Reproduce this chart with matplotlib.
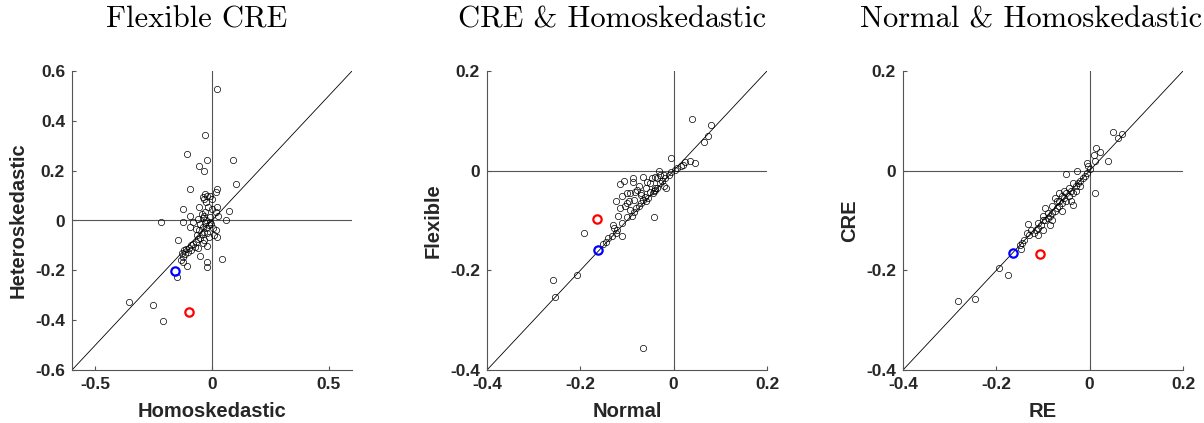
import numpy as np
import matplotlib.pyplot as plt

# ---- data (x, y) ----
# panel 1: Flexible CRE, homoskedastic vs heteroskedastic
p1_x = [0.021, -0.031, -0.107, -0.021, 0.091, -0.056, -0.036, 0.104, -0.094, 0.02, 0.017,
        -0.219, -0.123, -0.124, 0.071, 0.06, -0.147, 0.041, -0.021, -0.107, -0.02, -0.124,
        -0.151, -0.356, -0.252, -0.208,
        -0.03, -0.04, -0.02, -0.01, 0.0, -0.035, -0.025, -0.054, -0.016, 0.021, 0.0, 0.015,
        -0.03, -0.045, -0.093, -0.035, 0.025, -0.01, -0.04, -0.06, -0.025, -0.08, -0.01,
        -0.03, -0.05, -0.015, -0.094, -0.04, -0.025, 0.005, -0.07, -0.055, 0.015, -0.035,
        -0.02, -0.045, 0.01, -0.015, 0.02, -0.05, -0.06, -0.035, -0.07, -0.04, -0.08,
        -0.021, -0.09, -0.075, -0.1, -0.11, -0.12, -0.09, -0.105, -0.13, -0.115, -0.053,
        -0.125, -0.135, -0.06, -0.065, -0.005]
p1_y = [0.526, 0.343, 0.265, 0.241, 0.241, 0.219, 0.199, 0.148, 0.125, 0.125, 0.113,
        -0.005, -0.005, 0.047, 0.039, 0.004, -0.079, -0.155, -0.165, -0.183, -0.187, -0.167,
        -0.228, -0.329, -0.341, -0.405,
        0.105, 0.095, 0.1, 0.098, 0.085, 0.085, 0.075, 0.055, 0.055, 0.055, 0.045, 0.035,
        0.035, 0.025, 0.02, 0.02, 0.02, 0.015, 0.01, 0.005, 0.0, -0.005, -0.005,
        -0.01, -0.015, -0.02, -0.028, -0.025, -0.03, -0.03, -0.035, -0.04, -0.04, -0.045,
        -0.05, -0.055, -0.06, -0.065, -0.065, -0.07, -0.075, -0.08, -0.085, -0.09, -0.095,
        -0.103, -0.1, -0.105, -0.11, -0.115, -0.12, -0.12, -0.125, -0.13, -0.135, -0.142,
        -0.145, -0.16, -0.11, -0.06, -0.015]
p1_blue = (-0.16, -0.203)
p1_red = (-0.097, -0.366)

# panel 2: CRE & homoskedastic, normal vs flexible
p2_x = [0.039, 0.079, 0.074, 0.066, -0.006, 0.046, -0.032, -0.116, -0.106, -0.088, -0.088,
        -0.066, -0.043, -0.193, -0.207, -0.259, -0.254, -0.065,
        0.035, 0.025, 0.02, 0.015, 0.008, 0.002, -0.005,
        -0.057, -0.046, -0.039, -0.029, -0.021, -0.018, -0.016, -0.036, -0.039, -0.05, -0.061,
        -0.079, -0.071, -0.082, -0.094, -0.1, -0.104, -0.116, -0.124, -0.086, -0.093, -0.1,
        -0.111, -0.121, -0.127, -0.124, -0.132, -0.111, -0.146, -0.151,
        -0.04, -0.042, -0.045, -0.055, -0.06, -0.065, -0.07, -0.075, -0.08, -0.085, -0.09,
        -0.03, -0.025, -0.01, -0.02, -0.05, -0.06, -0.075, -0.1, -0.11, -0.095, -0.12, -0.13,
        -0.14, -0.07, -0.035]
p2_y = [0.103, 0.091, 0.069, 0.058, 0.025, 0.015, 0.0, -0.027, -0.02, -0.015, -0.022,
        -0.012, -0.093, -0.125, -0.209, -0.219, -0.253, -0.356,
        0.02, 0.017, 0.012, 0.01, 0.005, 0.001, -0.003,
        -0.022, -0.015, -0.012, -0.009, -0.009, -0.015, -0.035, -0.035, -0.035, -0.042, -0.052,
        -0.039, -0.049, -0.042, -0.045, -0.065, -0.071, -0.075, -0.061, -0.059, -0.079, -0.092,
        -0.105, -0.119, -0.115, -0.125, -0.132, -0.132, -0.144, -0.147,
        -0.038, -0.04, -0.045, -0.055, -0.06, -0.058, -0.065, -0.07, -0.075, -0.083, -0.09,
        -0.025, -0.02, -0.008, -0.03, -0.025, -0.035, -0.03, -0.045, -0.05, -0.06, -0.09, -0.11,
        -0.135, -0.045, -0.015]
p2_red = (-0.164, -0.097)
p2_blue = (-0.162, -0.159)

# panel 3: normal & homoskedastic, RE vs CRE
p3_x = [0.051, 0.069, 0.06, 0.014, 0.023, 0.009, 0.039, 0.011, -0.051, -0.027, -0.036,
        -0.132, -0.15, -0.148, -0.194, -0.175, -0.246, -0.282,
        0.012, -0.005, -0.003, 0.0, -0.005, -0.01, -0.015, -0.02, -0.025,
        -0.03, -0.035, -0.04, -0.045, -0.045, -0.05, -0.055, -0.05, -0.06, -0.06, -0.065,
        -0.065, -0.07, -0.07, -0.075, -0.08, -0.08, -0.085, -0.09, -0.09, -0.095, -0.1, -0.1,
        -0.105, -0.11, -0.11, -0.115, -0.12, -0.125, -0.13, -0.135, -0.14, -0.145, -0.085,
        -0.075, -0.055, -0.04, -0.065, -0.095, -0.11, -0.035, -0.02, -0.03, -0.06, -0.08, -0.1]
p3_y = [0.077, 0.074, 0.065, 0.045, 0.038, 0.031, 0.02, -0.044, -0.007, -0.001, -0.068,
        -0.108, -0.15, -0.157, -0.196, -0.21, -0.258, -0.262,
        0.02, 0.015, 0.01, 0.003, -0.005, -0.01, -0.015, -0.02, -0.025,
        -0.03, -0.025, -0.04, -0.035, -0.05, -0.045, -0.055, -0.06, -0.05, -0.065, -0.06,
        -0.07, -0.075, -0.06, -0.08, -0.085, -0.07, -0.09, -0.085, -0.095, -0.1, -0.1, -0.09,
        -0.11, -0.105, -0.115, -0.12, -0.125, -0.12, -0.13, -0.125, -0.14, -0.145, -0.11,
        -0.055, -0.04, -0.06, -0.045, -0.075, -0.13, -0.045, -0.03, -0.04, -0.08, -0.1, -0.12]
p3_red = (-0.107, -0.167)
p3_blue = (-0.164, -0.166)

titles = ['Flexible CRE', 'CRE & Homoskedastic', 'Normal & Homoskedastic']
xlabels = ['Homoskedastic', 'Normal', 'RE']
ylabels = ['Heteroskedastic', 'Flexible', 'CRE']
limits = [(-0.6, 0.6), (-0.4, 0.2), (-0.4, 0.2)]
xticks = [[-0.5, 0, 0.5], [-0.4, -0.2, 0, 0.2], [-0.4, -0.2, 0, 0.2]]
yticks = [[-0.6, -0.4, -0.2, 0, 0.2, 0.4, 0.6], [-0.4, -0.2, 0, 0.2], [-0.4, -0.2, 0, 0.2]]

W, H = 1204, 423
fig = plt.figure(figsize=(W / 100, H / 100), dpi=100)

lefts = [72, 487, 903]
title_cx = [197, 612, 1031]
tick_font = dict(family='Liberation Sans', weight='bold', size=12.5)
grey = '#555555'

panels = [(p1_x, p1_y, p1_red, p1_blue), (p2_x, p2_y, p2_red, p2_blue),
          (p3_x, p3_y, p3_red, p3_blue)]

for i, (xs, ys, red, blue) in enumerate(panels):
    ax = fig.add_axes([lefts[i] / W, 53 / H, 280 / W, 299 / H])
    lo, hi = limits[i]
    ax.set_xlim(lo, hi)
    ax.set_ylim(lo, hi)

    ax.axhline(0, color=grey, lw=0.8, zorder=1)
    ax.axvline(0, color=grey, lw=0.8, zorder=1)
    ax.plot([lo, hi], [lo, hi], color='k', lw=0.6, zorder=1)

    ax.plot(xs, ys, 'o', mfc='none', mec='k', ms=4.5, mew=0.5, zorder=2)
    ax.plot(*red, 'o', mfc='none', mec='red', ms=6, mew=1.6, zorder=3)
    ax.plot(*blue, 'o', mfc='none', mec='blue', ms=6, mew=1.6, zorder=3)

    for s in ['top', 'right']:
        ax.spines[s].set_visible(False)
    for s in ['left', 'bottom']:
        ax.spines[s].set_color(grey)
        ax.spines[s].set_linewidth(0.8)

    ax.set_xticks(xticks[i])
    ax.set_yticks(yticks[i])
    ax.set_xticklabels([f'{t:g}' for t in xticks[i]], fontdict=tick_font)
    ax.set_yticklabels([f'{t:g}' for t in yticks[i]], fontdict=tick_font)
    ax.tick_params(direction='in', length=3, color=grey, pad=5, labelcolor='#262626')

    ax.set_xlabel(xlabels[i], fontsize=14.5, fontweight='bold', family='Liberation Sans',
                  color='#262626', labelpad=7)
    ax.set_ylabel(ylabels[i], fontsize=14.5, fontweight='bold', family='Liberation Sans',
                  color='#262626', labelpad=5)

    fig.text(title_cx[i] / W, 1 - 20 / H, titles[i], family='cmr10', fontsize=22,
             ha='center', va='center')

fig.savefig('out.png', dpi=100)
